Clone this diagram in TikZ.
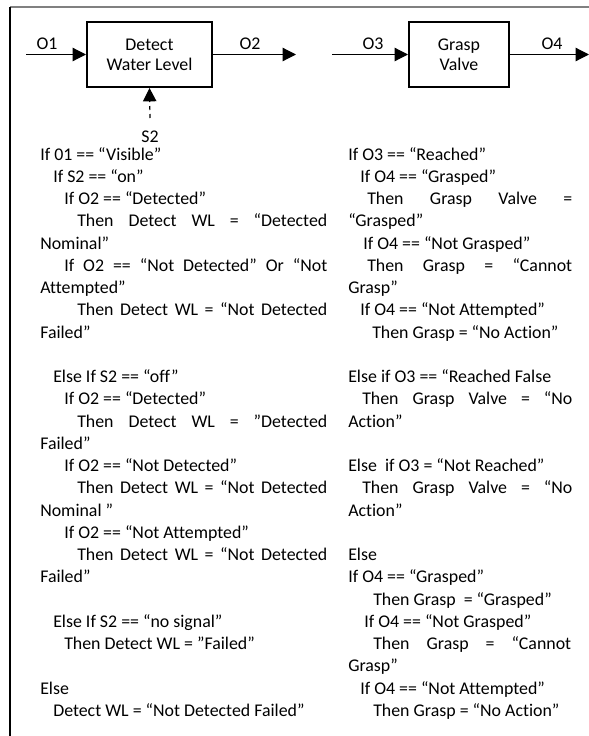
\documentclass[tikz,border=0pt]{standalone}
\usepackage{fontspec}
\setmainfont[Ligatures=NoCommon]{Carlito}
\usetikzlibrary{arrows.meta}

\tikzset{
  txt/.style={anchor=base west, inner sep=0pt, font=\fontsize{13.4}{16}\selectfont},
  lbl/.style={inner sep=0pt, font=\fontsize{13.4}{16}\selectfont},
  fbox/.style={draw, line width=1.5pt, align=center, inner sep=0pt,
    font=\fontsize{13.4}{15}\selectfont},
  arr/.style={line width=0.9pt, -{Triangle[length=10pt,width=10pt]}},
  sig/.style={arr, dash pattern=on 3pt off 3pt},
}
% one line of the rule text: name, x, line index, text
\newcommand\codeline[4]{\node[txt] (#1) at (#2,{160+22.25*#3}) {#4};}
% a justified line stretched to the given width
\newcommand\spreadto[2]{\makebox[#1][s]{#2}}

\begin{document}
\begin{tikzpicture}[x=0.75pt, y=-0.75pt]
\useasboundingbox (0,0) rectangle (589,736);

% frame
\draw[gray, line width=0.9pt] (10,7) -- (589,7);
\draw[line width=0.9pt] (10,7) -- (10,736);

% function blocks
\node[fbox, minimum width=93.75pt, minimum height=48.75pt] (dwl) at (149.5,54.5) {Detect\\Water Level};
\node[fbox, minimum width=75pt, minimum height=48.75pt] (gv) at (459,54.5) {Grasp\\Valve};

% flows
\coordinate (o1s) at (26,54.5);
\coordinate (o2e) at (296,54.5);
\coordinate (o3s) at (332,54.5);
\coordinate (o4e) at (589,54.5);
\coordinate (s2s) at (150,118);
\draw[arr] (o1s) -- (dwl.west);
\draw[arr] (dwl.east) -- (o2e);
\draw[arr] (o3s) -- (gv.west);
\draw[arr] (gv.east) -- (o4e);
\draw[sig] (s2s) -- (dwl.south);

\node[lbl] (o1) at (47,44) {O1};
\node[lbl] (o2) at (250,44) {O2};
\node[lbl] (o3) at (373,44) {O3};
\node[lbl] (o4) at (552,44) {O4};
\node[lbl] (s2) at (150,137) {S2};

% rules for Detect Water Level
\codeline{L0}{40}{0}{If 01 == “Visible”}
\codeline{L1}{53}{1}{If S2 == “on”}
\codeline{L2}{64}{2}{If O2 == “Detected”}
\codeline{L3}{77}{3}{\spreadto{187.5pt}{Then Detect WL = “Detected}}
\codeline{L4}{40}{4}{Nominal”}
\codeline{L5}{64}{5}{\spreadto{197.25pt}{If O2 == “Not Detected” Or “Not}}
\codeline{L6}{40}{6}{Attempted”}
\codeline{L7}{77}{7}{\spreadto{187.5pt}{Then Detect WL = “Not Detected}}
\codeline{L8}{40}{8}{Failed”}
\codeline{L10}{53}{10}{Else If S2 == “off”}
\codeline{L11}{64}{11}{If O2 == “Detected”}
\codeline{L12}{77}{12}{\spreadto{187.5pt}{Then Detect WL = ”Detected}}
\codeline{L13}{40}{13}{Failed”}
\codeline{L14}{64}{14}{If O2 == “Not Detected”}
\codeline{L15}{77}{15}{\spreadto{187.5pt}{Then Detect WL = “Not Detected}}
\codeline{L16}{40}{16}{Nominal ”}
\codeline{L17}{64}{17}{If O2 == “Not Attempted”}
\codeline{L18}{77}{18}{\spreadto{187.5pt}{Then Detect WL = “Not Detected}}
\codeline{L19}{40}{19}{Failed”}
\codeline{L21}{53}{21}{Else If S2 == “no signal”}
\codeline{L22}{64}{22}{Then Detect WL = ”Failed”}
\codeline{L24}{40}{24}{Else}
\codeline{L25}{53}{25}{Detect WL = “Not Detected Failed”}

% rules for Grasp Valve
\codeline{R0}{348}{0}{If O3 == “Reached”}
\codeline{R1}{360}{1}{If O4 == “Grasped”}
\codeline{R2}{367}{2}{\spreadto{153.75pt}{Then Grasp Valve =}}
\codeline{R3}{348}{3}{“Grasped”}
\codeline{R4}{363}{4}{If O4 == “Not Grasped”}
\codeline{R5}{367}{5}{\spreadto{153.75pt}{Then Grasp = “Cannot}}
\codeline{R6}{348}{6}{Grasp”}
\codeline{R7}{360}{7}{If O4 == “Not Attempted”}
\codeline{R8}{372}{8}{Then Grasp = “No Action”}
\codeline{R10}{348}{10}{Else if O3 == “Reached False}
\codeline{R11}{362}{11}{\spreadto{157.5pt}{Then Grasp Valve = “No}}
\codeline{R12}{348}{12}{Action”}
\codeline{R14}{348}{14}{Else\ \ if O3 = “Not Reached”}
\codeline{R15}{362}{15}{\spreadto{157.5pt}{Then Grasp Valve = “No}}
\codeline{R16}{348}{16}{Action”}
\codeline{R18}{348}{18}{Else}
\codeline{R19}{348}{19}{If O4 == “Grasped”}
\codeline{R20}{373}{20}{Then Grasp\ \ = “Grasped”}
\codeline{R21}{364}{21}{If O4 == “Not Grasped”}
\codeline{R22}{373}{22}{\spreadto{148.5pt}{Then Grasp = “Cannot}}
\codeline{R23}{348}{23}{Grasp”}
\codeline{R24}{360}{24}{If O4 == “Not Attempted”}
\codeline{R25}{373}{25}{Then Grasp = “No Action”}
\end{tikzpicture}
\end{document}
